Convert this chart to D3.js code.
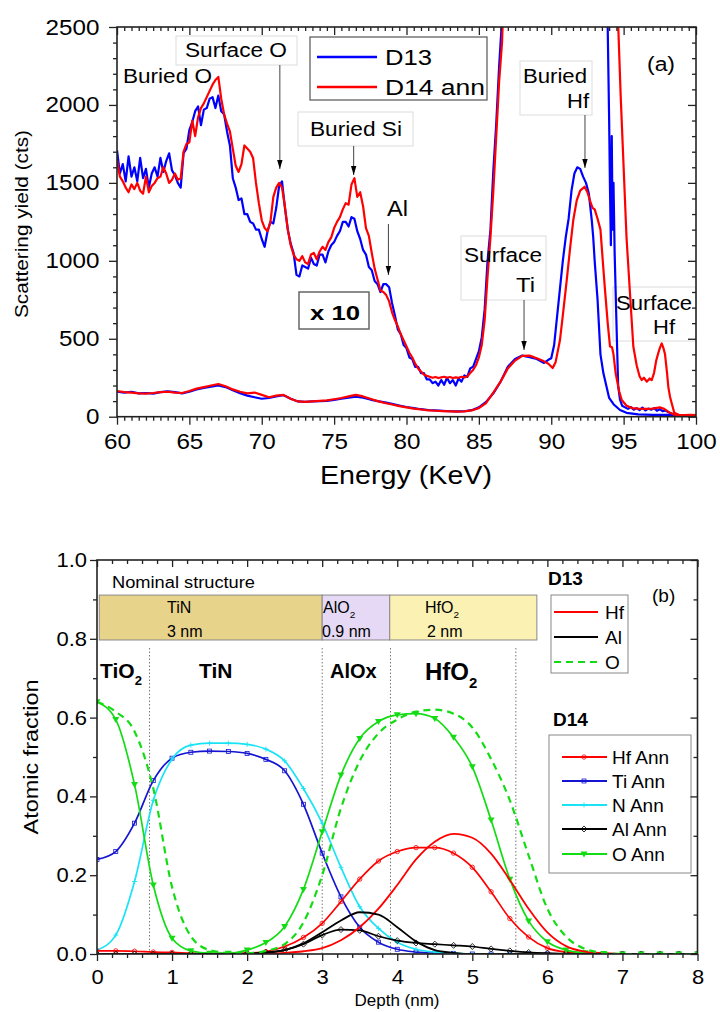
<!DOCTYPE html>
<html><head><meta charset="utf-8">
<script src="https://cdn.jsdelivr.net/npm/d3@7"></script>
<style>body{margin:0;background:#fff}text{font-family:"Liberation Sans",Arial,sans-serif}</style>
</head><body>
<svg id="chart" width="720" height="1012"></svg>
<script>
// ================= DATA: panel (a) =================
// x10 spectra on a regular channel grid (60.0 .. 86.6 keV, 0.2 keV step)
const x10Start = 60, x10Step = 0.2;
const d13x10Low = [
1710,1560,1620,1510,1670,1540,1600,1510,1660,1530,
1590,1470,1560,1600,1540,1660,1570,1640,1690,1580,
1550,1500,1470,1690,1720,1840,1890,1960,1990,1870,
1970,1980,2040,2050,1980,2060,1960,1940,1830,1740,
1530,1470,1390,1400,1300,1300,1250,1240,1200,1200,
1140,1090,1190,1250,1240,1340,1480,1510,1340,1200,
1110,1050,910,900,970,960,950,1020,980,970,
1040,1040,990,1060,1100,1120,1160,1190,1250,1250,
1220,1280,1270,1190,1140,1070,1040,960,940,870,
850,800,850,850,830,730,650,560,530,460,
440,380,370,320,320,280,280,240,240,215,
225,200,235,205,250,215,235,200,245,225,
265,255,310,320,370,420,510,690,1000,1200,
1580,1880,2250,2550];
const d14x10Low = [
1645,1540,1510,1470,1440,1490,1460,1500,1450,1430,
1540,1440,1480,1500,1530,1540,1600,1560,1500,1520,
1560,1520,1530,1700,1750,1760,1900,1800,1920,1980,
2010,2050,2090,2130,2160,2180,2040,1940,1880,1830,
1720,1610,1570,1620,1740,1720,1700,1660,1500,1370,
1260,1210,1190,1250,1410,1470,1500,1470,1350,1200,
1100,1040,1010,1000,1030,990,980,1040,1050,1010,
1060,1090,1070,1120,1150,1210,1250,1280,1330,1370,
1360,1490,1530,1410,1440,1350,1210,1160,1050,950,
880,810,800,780,740,670,620,580,530,490,
450,410,380,340,310,290,270,262,256,250,
255,248,252,256,250,255,248,252,250,256,
252,258,280,300,330,380,460,620,900,1150,
1450,1800,2150,2400];
// x10 spectra, off-scale part and high-energy tail
const d13x10HighE = [86.8,93.8,93.9,94.0,94.06,94.12,94.18,94.24,94.3,94.38,94.5,94.62,94.75,94.9,95.1,95.3,95.5,95.7,95.9,96.1,96.3,96.5,96.7,96.9,97.1,97.3,97.5,97.7,97.9,98.1,98.3,98.5,98.8,99.2,99.6,100];
const d13x10High  = [3500,3200,2500,1900,1450,1100,1800,1200,1500,1050,620,200,110,70,60,50,62,45,55,42,58,40,52,45,55,38,48,35,40,28,20,12,10,10,10,10];
const d14x10HighE = [87.0,94.5,94.63,94.8,95.0,95.2,95.44,95.67,95.9,96.1,96.25,96.4,96.6,96.8,96.94,97.1,97.25,97.4,97.5,97.63,97.75,97.86,98.0,98.09,98.2,98.32,98.5,98.8,99.2,99.6,100];
const d14x10High  = [3500,3000,2500,2050,1600,1150,790,450,330,260,235,250,225,245,235,280,360,410,440,470,440,400,280,190,130,86,25,12,10,12,10];
// unscaled spectra
const d13E = [60,60.5,61,61.5,62,62.5,63,63.5,64,64.5,65,65.5,66,66.5,67,67.5,68,68.5,69,69.5,70,70.5,71,71.5,72,72.5,73,73.5,74,74.5,75,75.5,76,76.5,77,77.5,78,78.5,79,79.5,80,80.5,81,81.5,82,82.5,83,83.5,84,84.5,85,85.5,86,86.5,87,87.5,88,88.5,89,89.5,89.8,90,90.2,90.4,90.6,90.8,91,91.2,91.4,91.6,91.8,92,92.2,92.4,92.6,92.8,92.9,93,93.2,93.4,93.6,93.8,94,94.3,94.75,95.2,96,97,98,99,100];
const d13Low = [160,155,160,150,152,148,158,162,158,150,160,175,185,192,200,190,170,150,135,125,115,120,130,138,115,98,95,98,100,102,108,115,122,128,122,110,100,92,82,72,62,55,48,43,40,37,35,34,35,42,60,95,150,225,320,370,392,382,370,345,365,375,460,640,820,1000,1150,1270,1450,1560,1600,1590,1540,1500,1430,1260,1150,1000,750,400,280,200,120,80,43,25,15,12,12,10,10];
const d14E = [60,60.5,61,61.5,62,62.5,63,63.5,64,64.5,65,65.5,66,66.5,67,67.5,68,68.5,69,69.5,70,70.5,71,71.5,72,72.5,73,73.5,74,74.5,75,75.5,76,76.5,77,77.5,78,78.5,79,79.5,80,80.5,81,81.5,82,82.5,83,83.5,84,84.5,85,85.5,86,86.5,87,87.5,88,88.5,89,89.5,89.8,90.1,90.3,90.6,90.8,91.07,91.3,91.52,91.76,92.0,92.3,92.5,92.7,92.85,93.0,93.2,93.4,93.6,93.7,93.9,94.06,94.2,94.3,94.45,94.7,94.87,95.2,95.6,96,96.5,97,97.5,97.8,98.2,98.6,99.2,100];
const d14Low = [165,158,155,150,148,152,158,160,155,152,165,180,190,200,210,195,175,160,150,155,140,125,135,140,115,98,95,98,102,105,112,120,130,140,130,115,100,88,78,68,60,52,46,41,38,36,34,33,34,40,55,88,155,225,310,360,390,392,375,355,340,312,350,490,650,876,1080,1260,1388,1450,1475,1440,1380,1340,1330,1270,1200,950,830,600,450,445,400,278,160,107,70,55,52,50,52,60,50,25,10,10,10];

// ================= DATA: panel (b) =================
const depth = [0,0.25,0.5,0.75,1,1.25,1.5,1.75,2,2.25,2.5,2.75,3,3.25,3.5,3.75,4,4.25,4.5,4.75,5,5.25,5.5,5.75,6,6.25,6.5,6.75,7,7.25,7.5,7.75,8];
const hfAnn = [0.008,0.008,0.007,0.005,0.004,0.002,0.001,0.001,0.002,0.006,0.019,0.042,0.078,0.133,0.19,0.236,0.26,0.27,0.27,0.256,0.22,0.158,0.09,0.043,0.015,0.005,0.002,0.001,0,0,0,0,0];
const tiAnn = [0.24,0.26,0.332,0.44,0.497,0.512,0.515,0.514,0.509,0.494,0.465,0.38,0.256,0.145,0.068,0.03,0.012,0.005,0.002,0.001,0,0,0,0,0,0,0,0,0,0,0,0,0];
const nAnn  = [0.01,0.048,0.184,0.39,0.495,0.53,0.535,0.535,0.532,0.52,0.49,0.42,0.332,0.22,0.12,0.065,0.03,0.012,0.005,0.002,0,0,0,0,0,0,0,0,0,0,0,0,0];
const alAnn = [0,0,0,0,0,0,0,0,0.001,0.004,0.01,0.025,0.048,0.062,0.06,0.045,0.034,0.028,0.025,0.022,0.019,0.013,0.008,0.004,0.002,0.001,0,0,0,0,0,0,0];
const oAnn  = [0.64,0.595,0.43,0.175,0.04,0.008,0.002,0.002,0.01,0.029,0.07,0.164,0.31,0.454,0.547,0.59,0.607,0.61,0.598,0.55,0.475,0.34,0.19,0.084,0.031,0.01,0.003,0.001,0,0,0,0,0];
const hfD13 = [0,0,0,0,0,0,0,0,0,0.001,0.003,0.007,0.015,0.035,0.068,0.115,0.175,0.24,0.285,0.305,0.295,0.255,0.188,0.115,0.055,0.02,0.006,0.002,0,0,0,0,0];
const alD13 = [0,0,0,0,0,0,0,0,0,0.003,0.01,0.027,0.055,0.085,0.106,0.1,0.068,0.032,0.01,0.003,0,0,0,0,0,0,0,0,0,0,0,0,0];
const oD13  = [0.64,0.615,0.565,0.42,0.17,0.045,0.01,0.003,0.002,0.008,0.025,0.08,0.2,0.37,0.49,0.56,0.595,0.615,0.62,0.61,0.575,0.495,0.39,0.25,0.115,0.044,0.013,0.003,0,0,0,0,0];
// nominal structure layers [name, sub, thickness label, start, end]
const layerNames = ["TiN","AlO","HfO"];
const layerSubs = ["","2","2"];
const layerThick = ["3 nm","0.9 nm","2 nm"];
const layerStart = [0.03,3.0,3.9];
const layerEnd = [3.0,3.9,5.86];
const boundaries = [0.7,3.0,3.91,5.58];

// ================= DRAW =================
const svg = d3.select("#chart");
const defs = svg.append("defs");
const BLUE="#0000ff", RED="#ff0000";
const C = {hf:"#ff0000", ti:"#1414d2", n:"#19e3f5", al:"#000000", o:"#14dc14"};

function label(g,x,y,str,o={}){
  const t=g.append("text").attr("x",x).attr("y",y).attr("font-size",o.size||20)
    .attr("font-weight",o.bold?"bold":"normal").attr("text-anchor",o.anchor||"start").attr("fill","#000");
  if(o.len) t.attr("textLength",o.len).attr("lengthAdjust","spacingAndGlyphs");
  if(o.rot) t.attr("transform",`rotate(${o.rot},${x},${y})`);
  t.text(str); return t;
}
function subLabel(g,x,y,main,sub,size,bold){
  const t=g.append("text").attr("x",x).attr("y",y).attr("font-size",size).attr("font-weight",bold?"bold":"normal");
  t.append("tspan").text(main);
  if(sub) t.append("tspan").attr("dy",size*0.32).attr("font-size",size*0.62).text(sub);
  return t;
}
function axes(xs,ys,xMaj,xMin,yMaj,yMin,fx,fy,fs,o){
  const [x0,x1]=xs.range(), [y0,y1]=ys.range();
  const g=svg.append("g");
  const style=(sel)=>{sel.select(".domain").remove();sel.selectAll("line").attr("stroke","#222").attr("stroke-width",1.3);
    sel.selectAll("text").attr("font-size",fs).attr("fill","#000").attr("font-family","Liberation Sans, Arial, sans-serif").attr("transform","scale(1.1,1)");};
  g.append("g").attr("transform",`translate(0,${y0})`).call(d3.axisBottom(xs).tickValues(xMin).tickSize(4).tickFormat("")).call(style);
  g.append("g").attr("transform",`translate(0,${y0})`).call(d3.axisBottom(xs).tickValues(xMaj).tickSize(o.tl).tickPadding(o.bp).tickFormat(fx)).call(style);
  g.append("g").attr("transform",`translate(${x0},0)`).call(d3.axisLeft(ys).tickValues(yMin).tickSize(4).tickFormat("")).call(style);
  g.append("g").attr("transform",`translate(${x0},0)`).call(d3.axisLeft(ys).tickValues(yMaj).tickSize(o.tl).tickPadding(o.lp).tickFormat(fy)).call(style);
  g.append("g").attr("transform",`translate(0,${y1})`).call(d3.axisTop(xs).tickValues(xMin).tickSize(-4).tickFormat("")).call(style);
  g.append("g").attr("transform",`translate(0,${y1})`).call(d3.axisTop(xs).tickValues(xMaj).tickSize(-o.tl).tickFormat("")).call(style);
  g.append("g").attr("transform",`translate(${x1},0)`).call(d3.axisRight(ys).tickValues(yMin).tickSize(-4).tickFormat("")).call(style);
  g.append("g").attr("transform",`translate(${x1},0)`).call(d3.axisRight(ys).tickValues(yMaj).tickSize(-o.tl).tickFormat("")).call(style);
  g.append("rect").attr("x",x0).attr("y",y1).attr("width",x1-x0).attr("height",y0-y1).attr("fill","none").attr("stroke","#222").attr("stroke-width",1.6);
}

// arrow marker
defs.append("marker").attr("id","ah").attr("viewBox","0 0 10 6").attr("refX",10).attr("refY",3)
  .attr("markerWidth",9).attr("markerHeight",6).attr("markerUnits","userSpaceOnUse").attr("orient","auto")
  .append("path").attr("d","M0,0L10,3L0,6Z").attr("fill","#000");

// ---------- Panel (a) ----------
const xa=d3.scaleLinear([60,100],[117,696]);
const ya=d3.scaleLinear([0,2500],[416.7,27]);
defs.append("clipPath").attr("id","clipA").append("rect").attr("x",117).attr("y",27).attr("width",579).attr("height",390);
const gA=svg.append("g");

// annotation boxes (behind curves)
const boxes=[[176,36,121,29],[298,112,115,34],[461,236,85,64],[520,61,72,54],[613,287,83,54]];
boxes.forEach(b=>gA.append("rect").attr("x",b[0]).attr("y",b[1]).attr("width",b[2]).attr("height",b[3]).attr("fill","none").attr("stroke","#dcdcdc").attr("stroke-width",1));

const lineA=d3.line().x(d=>xa(d[0])).y(d=>ya(d[1]));
const toPairs=(vals)=>vals.map((v,i)=>[x10Start+i*x10Step,v]);
const zip=(E,V)=>E.map((e,i)=>[e,V[i]]);
const curvesA=[
  [toPairs(d13x10Low).concat(zip(d13x10HighE,d13x10High)),BLUE],
  [zip(d13E,d13Low),BLUE],
  [toPairs(d14x10Low).concat(zip(d14x10HighE,d14x10High)),RED],
  [zip(d14E,d14Low),RED]];
const cg=gA.append("g").attr("clip-path","url(#clipA)");
curvesA.forEach(c=>cg.append("path").attr("d",lineA(c[0])).attr("fill","none").attr("stroke",c[1]).attr("stroke-width",2.2).attr("stroke-linejoin","round"));

axes(xa,ya,d3.range(60,101,5),d3.range(60,100.01,0.5).filter(v=>Math.abs(v%5)>1e-6),
  d3.range(0,2501,500),d3.range(0,2501,100).filter(v=>v%500!==0),d3.format("d"),d3.format("d"),22,{tl:8,bp:9,lp:8});

// arrows (energy, from y, to y)
const arrows=[[71.25,65,169],[76.35,146,175],[78.75,224,275],[88.12,300,350],[92.33,115,168]];
arrows.forEach(a=>gA.append("line").attr("x1",xa(a[0])).attr("x2",xa(a[0])).attr("y1",a[1]).attr("y2",a[2]).attr("stroke","#444").attr("stroke-width",1).attr("marker-end","url(#ah)"));

label(gA,123,83,"Buried O",{size:20,len:89});
label(gA,185,57,"Surface O",{size:20,len:102});
label(gA,310,136,"Buried Si",{size:20,len:92});
label(gA,387,216,"Al",{size:22,len:21});
label(gA,464,262,"Surface",{size:20,len:78});
label(gA,516,292,"Ti",{size:20,len:19});
label(gA,523,83,"Buried",{size:20,len:64});
label(gA,567,108,"Hf",{size:20,len:22});
label(gA,616,310,"Surface",{size:20,len:76});
label(gA,653,334,"Hf",{size:20,len:22});
label(gA,647,71,"(a)",{size:20,len:28});
gA.append("rect").attr("x",299).attr("y",292).attr("width",70).attr("height",37).attr("fill","#fff").attr("stroke","#666").attr("stroke-width",1.5);
label(gA,310,320,"x 10",{size:21,bold:true,len:50});
// legend (a)
gA.append("rect").attr("x",310).attr("y",37).attr("width",177).attr("height",63).attr("fill","#fff").attr("stroke","#555").attr("stroke-width",1.2);
[[57,BLUE,"D13",47],[87,RED,"D14 ann",100]].forEach(l=>{
  gA.append("line").attr("x1",317).attr("x2",377).attr("y1",l[0]).attr("y2",l[0]).attr("stroke",l[1]).attr("stroke-width",2.4);
  label(gA,385,l[0]+8,l[2],{size:22,len:l[3]});
});
label(gA,320,484,"Energy (KeV)",{size:25,len:172});
label(gA,28,224,"Scattering yield (cts)",{size:18,len:188,anchor:"middle",rot:-90});

// ---------- Panel (b) ----------
const xb=d3.scaleLinear([0,8],[97,697.5]);
const yb=d3.scaleLinear([0,1],[954,560]);
defs.append("clipPath").attr("id","clipB").append("rect").attr("x",97).attr("y",560).attr("width",600.5).attr("height",394);
const gB=svg.append("g");

// nominal structure
const layerFill=["#e8d38b","#e6d9f5","#fbf1b3"];
layerStart.forEach((s,i)=>{
  gB.append("rect").attr("x",xb(s)).attr("y",yb(0.911)).attr("width",xb(layerEnd[i])-xb(s)).attr("height",yb(0.797)-yb(0.911))
    .attr("fill",layerFill[i]).attr("stroke","#8a8a8a").attr("stroke-width",1);
});
label(gB,112,588,"Nominal structure",{size:16,len:143});
const lx=[167,323,425], tx=[167,322,427];
layerNames.forEach((n,i)=>{
  subLabel(gB,lx[i],613,n,layerSubs[i],16,false);
  label(gB,tx[i],637,layerThick[i],{size:16});
});
boundaries.forEach(b=>gB.append("line").attr("x1",xb(b)).attr("x2",xb(b)).attr("y1",648).attr("y2",954)
  .attr("stroke","#777").attr("stroke-width",1).attr("stroke-dasharray","1.5,2"));
subLabel(gB,100,678,"TiO","2",21,true);
label(gB,199,678,"TiN",{size:21,bold:true});
label(gB,330,678,"AlOx",{size:20,bold:true});
subLabel(gB,425,680,"HfO","2",24,true);

const lineB=d3.line().curve(d3.curveMonotoneX).x(d=>xb(d[0])).y(d=>yb(d[1]));
const bg=gB.append("g").attr("clip-path","url(#clipB)");
const zipD=(V)=>depth.map((d,i)=>[d,V[i]]);
function marker(g,type,x,y,col){
  if(type==="circle") g.append("circle").attr("cx",x).attr("cy",y).attr("r",2.2).attr("fill","none").attr("stroke",col).attr("stroke-width",0.8);
  else if(type==="square") g.append("rect").attr("x",x-2).attr("y",y-2).attr("width",4).attr("height",4).attr("fill","none").attr("stroke",col).attr("stroke-width",0.8);
  else if(type==="plus") g.append("path").attr("d",`M${x-2.5},${y}h5M${x},${y-2.5}v5`).attr("stroke",col).attr("stroke-width",0.9);
  else if(type==="diamond") g.append("path").attr("d",`M${x},${y-3}L${x+3},${y}L${x},${y+3}L${x-3},${y}Z`).attr("fill","none").attr("stroke",col).attr("stroke-width",0.8);
  else if(type==="tri") g.append("path").attr("d",`M${x-3.5},${y-2.5}L${x+3.5},${y-2.5}L${x},${y+3.5}Z`).attr("fill",col);
}
const d13Series=[[hfD13,C.hf,null],[alD13,C.al,null],[oD13,C.o,"7,5"]];
const d14Series=[[tiAnn,C.ti,"square"],[nAnn,C.n,"plus"],[hfAnn,C.hf,"circle"],[alAnn,C.al,"diamond"],[oAnn,C.o,"tri"]];
d14Series.forEach(s=>{
  bg.append("path").attr("d",lineB(zipD(s[0]))).attr("fill","none").attr("stroke",s[1]).attr("stroke-width",1.7);
  depth.forEach((d,i)=>marker(bg,s[2],xb(d),yb(s[0][i]),s[1]));
});
d13Series.forEach(s=>{
  const p=bg.append("path").attr("d",lineB(zipD(s[0]))).attr("fill","none").attr("stroke",s[1]).attr("stroke-width",1.8);
  if(s[2]) p.attr("stroke-dasharray",s[2]).attr("stroke-width",2.2);
});

axes(xb,yb,d3.range(0,9,1),d3.range(0,8.01,0.2).filter(v=>Math.abs(v-Math.round(v))>1e-6),
  d3.range(0,1.01,0.2),[0.1,0.3,0.5,0.7,0.9],d3.format("d"),d3.format(".1f"),20,{tl:7,bp:9,lp:2});

// legends (b)
label(gB,548,585,"D13",{size:19,bold:true});
label(gB,652,602,"(b)",{size:19});
gB.append("rect").attr("x",551).attr("y",595).attr("width",77).attr("height",78).attr("fill","#fff").attr("stroke","#888");
[["Hf",C.hf,null,612],["Al",C.al,null,637],["O",C.o,"7,5",662]].forEach(l=>{
  const ln=gB.append("line").attr("x1",554).attr("x2",598).attr("y1",l[3]).attr("y2",l[3]).attr("stroke",l[1]).attr("stroke-width",1.8);
  if(l[2]) ln.attr("stroke-dasharray",l[2]).attr("stroke-width",2.2);
  label(gB,605,l[3]+7,l[0],{size:19});
});
label(gB,553,726,"D14",{size:19,bold:true});
gB.append("rect").attr("x",549).attr("y",735).attr("width",142).attr("height",138).attr("fill","#fff").attr("stroke","#888");
[["Hf Ann",C.hf,"circle",757],["Ti Ann",C.ti,"square",781],["N Ann",C.n,"plus",805],["Al Ann",C.al,"diamond",829],["O Ann",C.o,"tri",854]].forEach(l=>{
  gB.append("line").attr("x1",562).attr("x2",607).attr("y1",l[3]).attr("y2",l[3]).attr("stroke",l[1]).attr("stroke-width",1.8);
  marker(gB,l[2],584,l[3],l[1]);
  label(gB,612,l[3]+7,l[0],{size:19});
});
label(gB,38,757,"Atomic fraction",{size:20,len:155,anchor:"middle",rot:-90});
label(gB,397,1006,"Depth (nm)",{size:17,anchor:"middle"});
</script>
</body></html>
